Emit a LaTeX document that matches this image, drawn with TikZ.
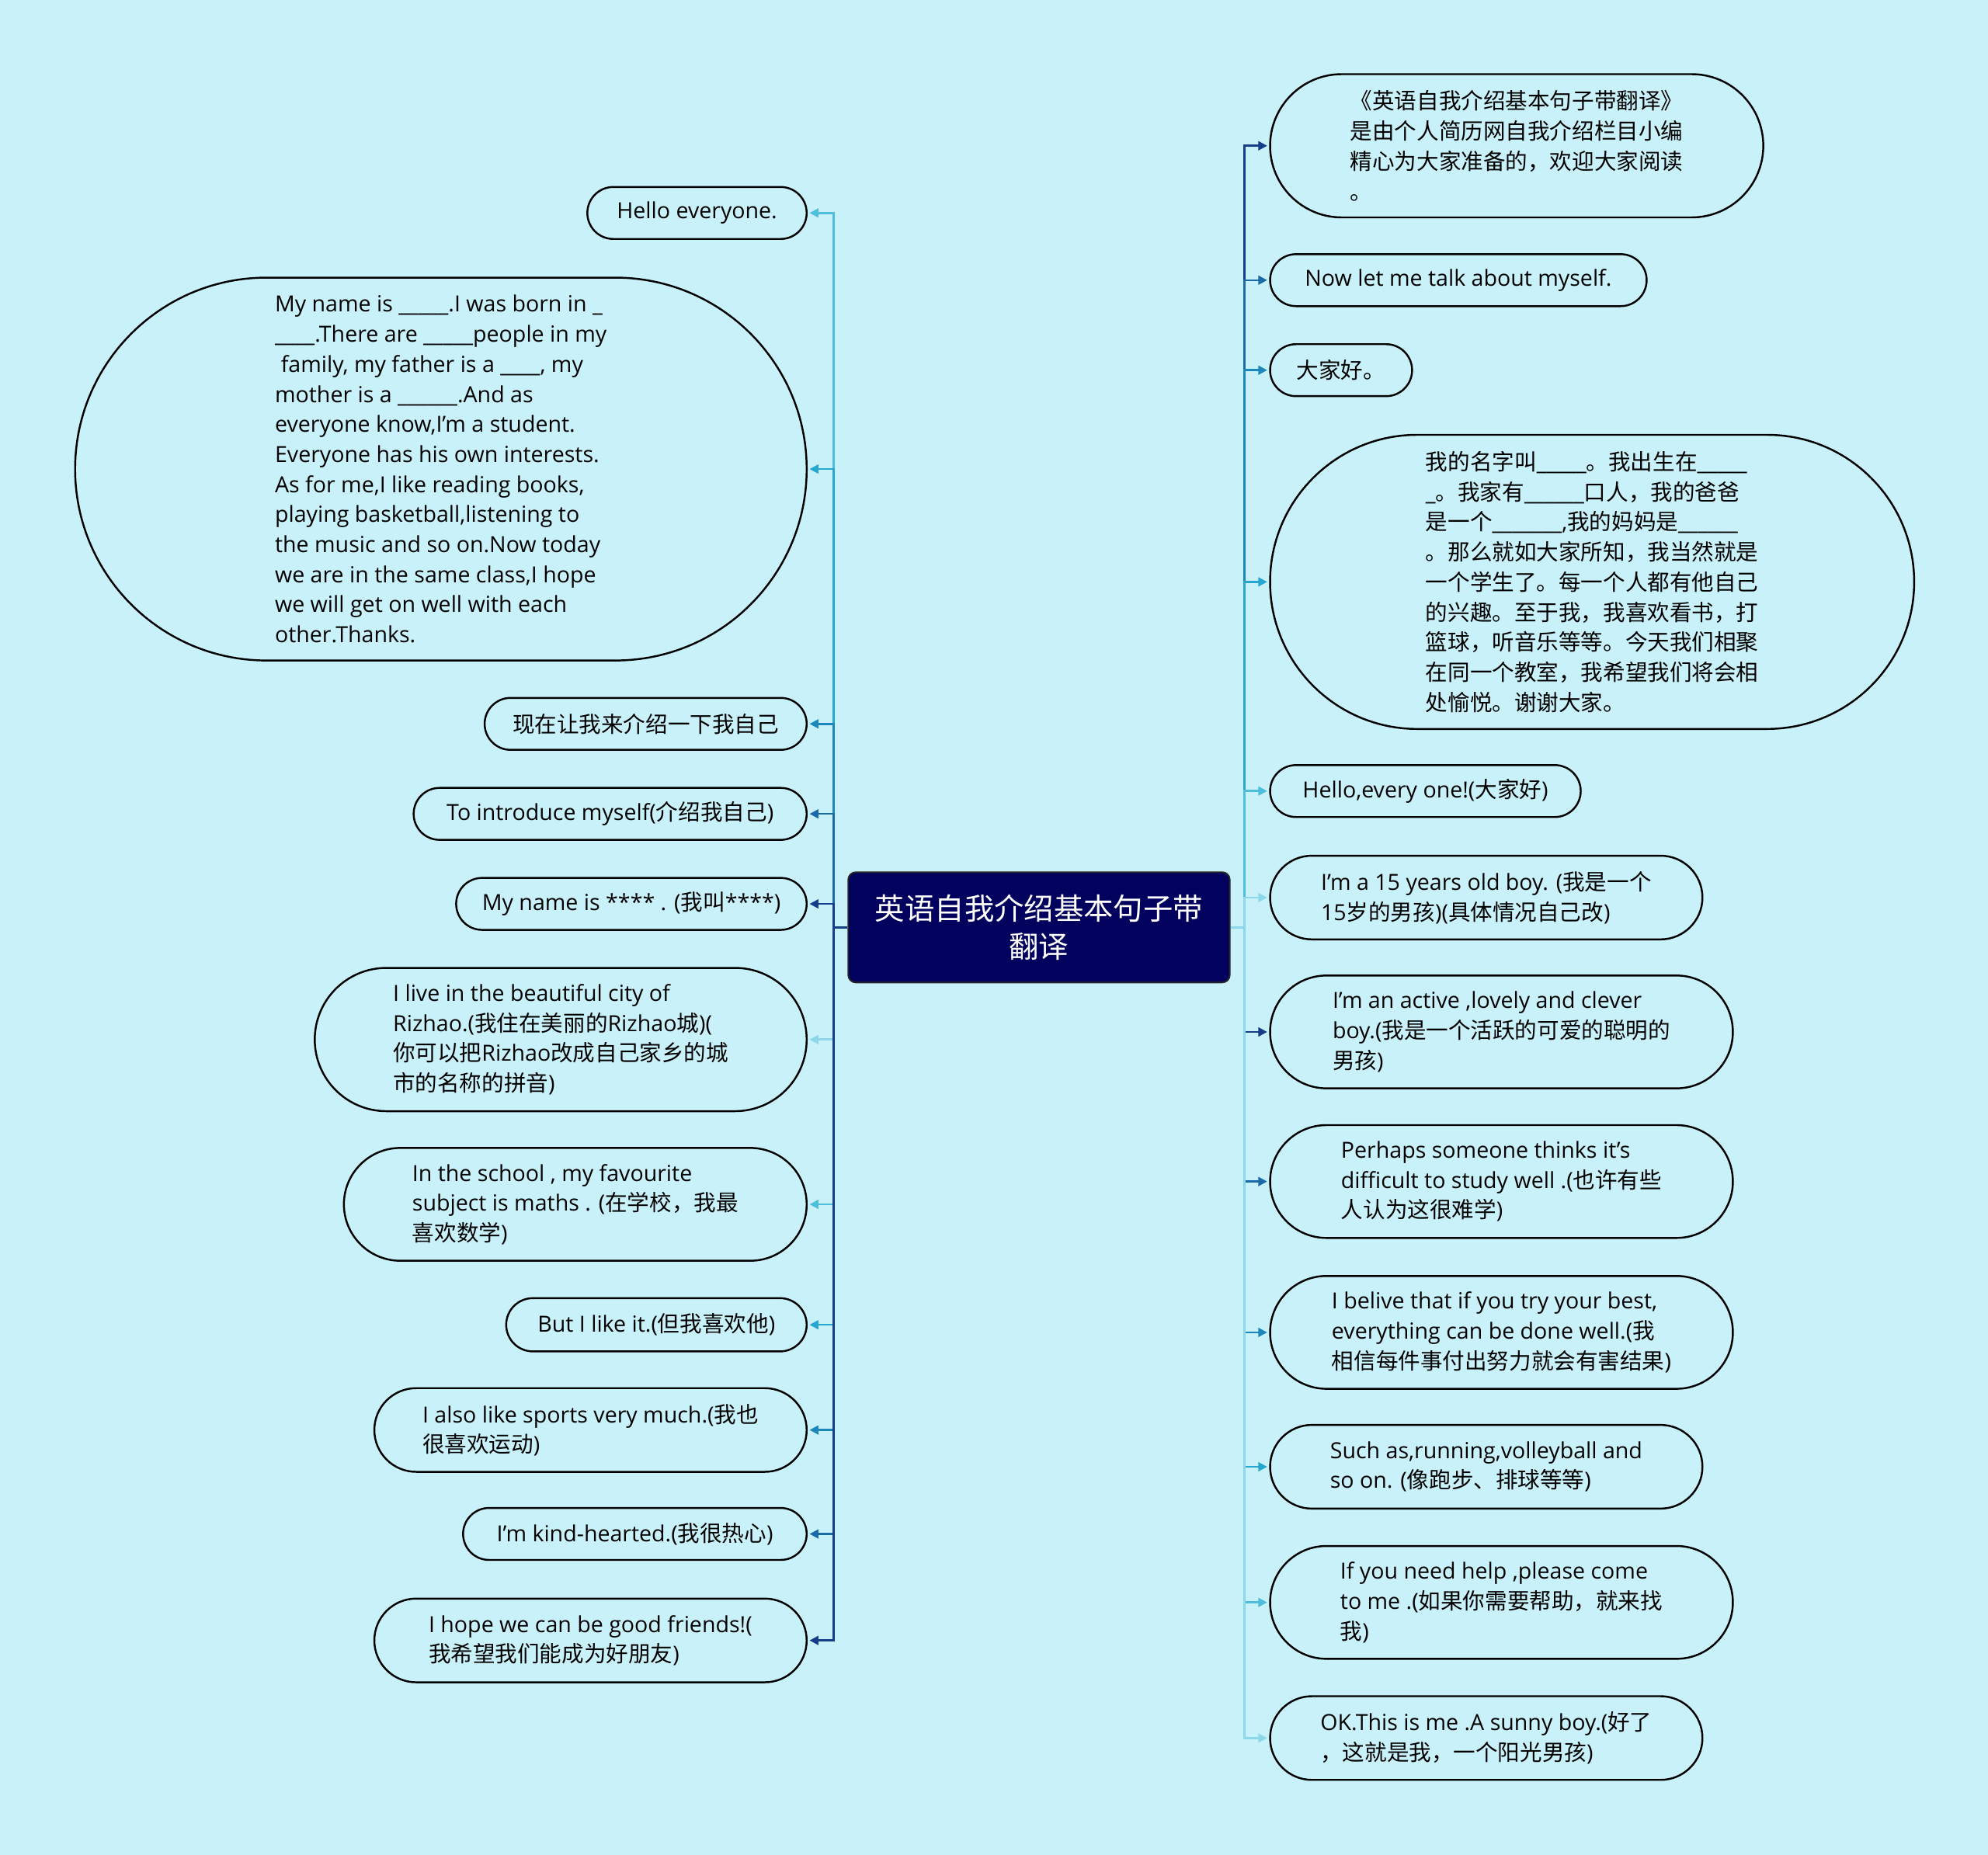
\documentclass[tikz,border=0pt]{standalone}
\usepackage{fontspec}
\setmainfont{Open Sans}
\newfontfamily\cjk{Noto Sans CJK SC}
\newcommand{\zh}[1]{{\cjk #1}}
\usetikzlibrary{arrows.meta}
\definecolor{bg}{RGB}{201,241,249}
\definecolor{rootblue}{RGB}{2,2,94}
\definecolor{cnavy}{RGB}{22,61,138}
\definecolor{cblue}{RGB}{26,106,168}
\definecolor{cmid}{RGB}{29,134,187}
\definecolor{ccyan}{RGB}{39,166,207}
\definecolor{clight}{RGB}{77,191,220}
\definecolor{cpale}{RGB}{141,215,234}
\begin{document}
\begin{tikzpicture}[x=1pt,y=-1pt,
    leaf/.style 2 args={rectangle, rounded corners=#2*0.5pt, draw=black,
        line width=1.5pt, fill=bg, minimum width=#1, minimum height=#2,
        inner xsep=#2*0.5pt, inner ysep=2pt, align=left,
        font=\fontsize{17.5}{23.7}\selectfont},
    lleaf/.style 2 args={leaf={#1}{#2}, anchor=east},
    rleaf/.style 2 args={leaf={#1}{#2}, anchor=west},
    root/.style={rectangle, rounded corners=6pt, draw=black!85, line width=1.2pt,
        fill=rootblue, text=white, minimum width=301, minimum height=87,
        align=center, font=\cjk\fontsize{23.5}{30}\selectfont},
    conn/.style={draw=#1, line width=1.6pt, -{Triangle[length=7pt,width=7pt]},
        shorten >=1.5pt}]
    \useasboundingbox[fill=bg] (0,0) rectangle (1568,1463);
    % centre
    \node[root] (root) at (819.5,731.5) {英语自我介绍基本句子带\\翻译};
    % left side
    \node[lleaf={173}{41}] (l1) at (637,168) {Hello everyone.};
    \node[lleaf={577}{302}] (l2) at (637,370) {My name is \_\_\_\_\_.I was born in \_\\
        \_\_\_\_.There are \_\_\_\_\_people in my\\
        \hspace*{0.27em}family, my father is a \_\_\_\_, my\\
        mother is a \_\_\_\_\_\_.And as\\
        everyone know,I'm a student.\\
        Everyone has his own interests.\\
        As for me,I like reading books,\\
        playing basketball,listening to\\
        the music and so on.Now today\\
        we are in the same class,I hope\\
        we will get on well with each\\
        other.Thanks.};
    \node[lleaf={254}{41}] (l3) at (637,571) {\zh{现在让我来介绍一下我自己}};
    \node[lleaf={310}{41}] (l4) at (637,642) {To introduce myself(\zh{介绍我自己})};
    \node[lleaf={271}{41}] (l5) at (637,713) {My name is **** . (\zh{我叫}****)};
    \node[lleaf={388}{113}] (l6) at (637,820) {I live in the beautiful city of\\
        Rizhao.(\zh{我住在美丽的}Rizhao\zh{城})(\\
        \zh{你可以把}Rizhao\zh{改成自己家乡的城}\\
        \zh{市的名称的拼音})};
    \node[lleaf={365}{89}] (l7) at (637,950) {In the school , my favourite\\
        subject is maths . (\zh{在学校，我最}\\
        \zh{喜欢数学})};
    \node[lleaf={237}{42}] (l8) at (637,1045) {But I like it.(\zh{但我喜欢他})};
    \node[lleaf={341}{66}] (l9) at (637,1128) {I also like sports very much.(\zh{我也}\\
        \zh{很喜欢运动})};
    \node[lleaf={271}{41}] (l10) at (637,1210) {I'm kind-hearted.(\zh{我很热心})};
    \node[lleaf={341}{66}] (l11) at (637,1294) {I hope we can be good friends!(\\
        \zh{我希望我们能成为好朋友})};
    % right side
    \node[rleaf={389}{113}] (r1) at (1001,115) {\zh{《英语自我介绍基本句子带翻译》}\\
        \zh{是由个人简历网自我介绍栏目小编}\\
        \zh{精心为大家准备的，欢迎大家阅读}\\
        \zh{。}};
    \node[rleaf={297}{41}] (r2) at (1001,221) {Now let me talk about myself.};
    \node[rleaf={112}{41}] (r3) at (1001,292) {\zh{大家好。}};
    \node[rleaf={508}{232}] (r4) at (1001,459) {\zh{我的名字叫}\_\_\_\_\_\zh{。我出生在}\_\_\_\_\_\\
        \_\zh{。我家有}\_\_\_\_\_\_\zh{口人，我的爸爸}\\
        \zh{是一个}\_\_\_\_\_\_\_,\zh{我的妈妈是}\_\_\_\_\_\_\\
        \zh{。那么就如大家所知，我当然就是}\\
        \zh{一个学生了。每一个人都有他自己}\\
        \zh{的兴趣。至于我，我喜欢看书，打}\\
        \zh{篮球，听音乐等等。今天我们相聚}\\
        \zh{在同一个教室，我希望我们将会相}\\
        \zh{处愉悦。谢谢大家。}};
    \node[rleaf={245}{41}] (r5) at (1001,624) {Hello,every one!(\zh{大家好})};
    \node[rleaf={341}{66}] (r6) at (1001,708) {I'm a 15 years old boy. (\zh{我是一个}\\
        15\zh{岁的男孩})(\zh{具体情况自己改})};
    \node[rleaf={365}{89}] (r7) at (1001,814) {I'm an active ,lovely and clever\\
        boy.(\zh{我是一个活跃的可爱的聪明的}\\
        \zh{男孩})};
    \node[rleaf={365}{89}] (r8) at (1001,932) {Perhaps someone thinks it's\\
        difficult to study well .(\zh{也许有些}\\
        \zh{人认为这很难学})};
    \node[rleaf={365}{89}] (r9) at (1001,1051) {I belive that if you try your best,\\
        everything can be done well.(\zh{我}\\
        \zh{相信每件事付出努力就会有害结果})};
    \node[rleaf={341}{66}] (r10) at (1001,1157) {Such as,running,volleyball and\\
        so on. (\zh{像跑步、排球等等})};
    \node[rleaf={365}{89}] (r11) at (1001,1264) {If you need help ,please come\\
        to me .(\zh{如果你需要帮助，就来找}\\
        \zh{我})};
    \node[rleaf={341}{66}] (r12) at (1001,1371) {OK.This is me .A sunny boy.(\zh{好了}\\
        \zh{，这就是我，一个阳光男孩})};
    % connectors, left
    \draw[conn=clight] (root.west) -- ++(-11,0) |- (l1.east);
    \draw[conn=ccyan] (root.west) -- ++(-11,0) |- (l2.east);
    \draw[conn=cmid] (root.west) -- ++(-11,0) |- (l3.east);
    \draw[conn=cblue] (root.west) -- ++(-11,0) |- (l4.east);
    \draw[conn=cnavy] (root.west) -- ++(-11,0) |- (l5.east);
    \draw[conn=cpale] (root.west) -- ++(-11,0) |- (l6.east);
    \draw[conn=clight] (root.west) -- ++(-11,0) |- (l7.east);
    \draw[conn=ccyan] (root.west) -- ++(-11,0) |- (l8.east);
    \draw[conn=cmid] (root.west) -- ++(-11,0) |- (l9.east);
    \draw[conn=cblue] (root.west) -- ++(-11,0) |- (l10.east);
    \draw[conn=cnavy] (root.west) -- ++(-11,0) |- (l11.east);
    % connectors, right
    \draw[conn=cnavy] (root.east) -- ++(11,0) |- (r1.west);
    \draw[conn=cblue] (root.east) -- ++(11,0) |- (r2.west);
    \draw[conn=cmid] (root.east) -- ++(11,0) |- (r3.west);
    \draw[conn=ccyan] (root.east) -- ++(11,0) |- (r4.west);
    \draw[conn=clight] (root.east) -- ++(11,0) |- (r5.west);
    \draw[conn=cpale] (root.east) -- ++(11,0) |- (r6.west);
    \draw[conn=cnavy] (root.east) -- ++(11,0) |- (r7.west);
    \draw[conn=cblue] (root.east) -- ++(11,0) |- (r8.west);
    \draw[conn=cmid] (root.east) -- ++(11,0) |- (r9.west);
    \draw[conn=ccyan] (root.east) -- ++(11,0) |- (r10.west);
    \draw[conn=clight] (root.east) -- ++(11,0) |- (r11.west);
    \draw[conn=cpale] (root.east) -- ++(11,0) |- (r12.west);
\end{tikzpicture}
\end{document}
